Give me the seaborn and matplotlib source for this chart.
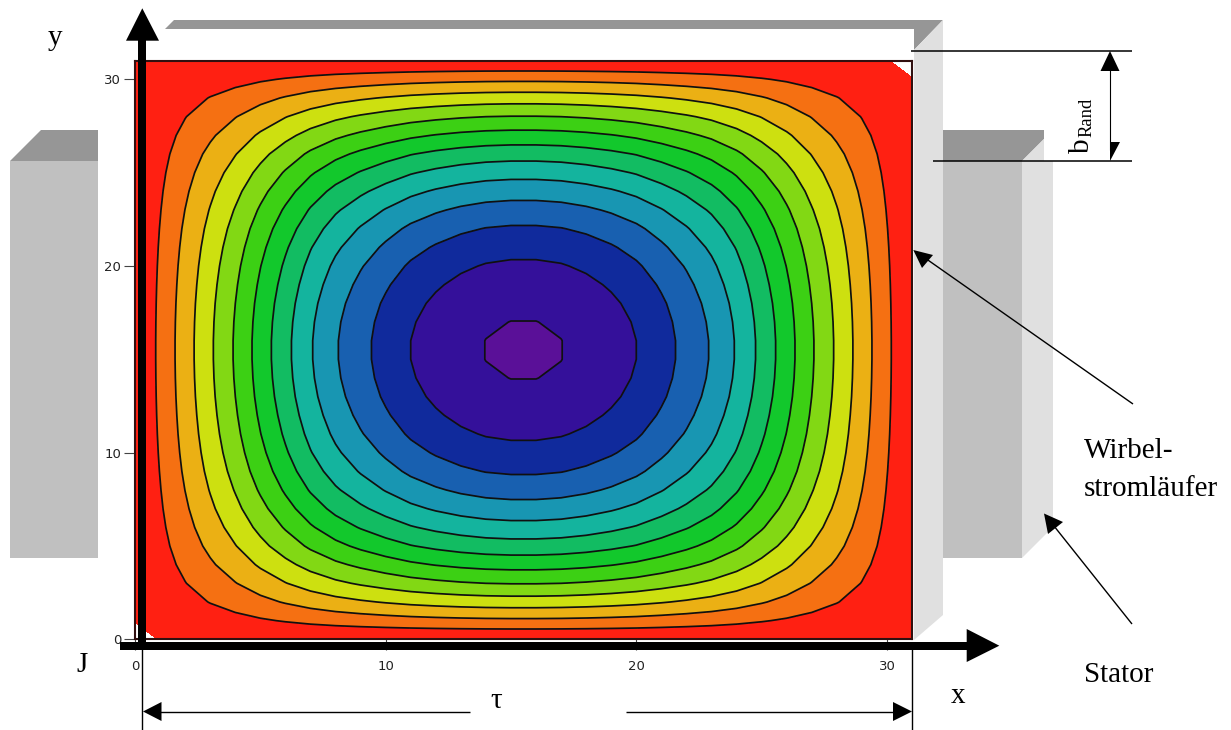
import numpy as np
import matplotlib
matplotlib.use("Agg")
import matplotlib.pyplot as plt
from matplotlib.patches import Polygon
import seaborn as sns

# ---- data (contour level units along the two mid lines)
x_grid = list(range(32))
y_grid = list(range(32))
x_profile = [0, 1.21, 2.53, 3.84, 5.11, 6.44, 7.71, 8.91, 9.91, 10.70, 11.39, 12.00, 12.44, 12.78, 13.01, 13.11,
             13.11, 13.01, 12.78, 12.44, 12.00, 11.39, 10.70, 9.91, 8.91, 7.71, 6.44, 5.11, 3.84, 2.53, 1.21, 0]
y_profile = [0, 1.81, 3.53, 5.04, 6.37, 7.60, 8.66, 9.60, 10.42, 11.12, 11.69, 12.16, 12.53, 12.82, 13.01, 13.11,
             13.11, 13.01, 12.82, 12.53, 12.16, 11.69, 11.12, 10.42, 9.60, 8.66, 7.60, 6.37, 5.04, 3.53, 1.81, 0]
peak_value = 13.11
corner_value = -1.0
fill_levels = [-0.1, 1, 2, 3, 4, 5, 6, 7, 8, 9, 10, 11, 12, 13, 14]
line_levels = [1, 2, 3, 4, 5, 6, 7, 8, 9, 10, 11, 12, 13]
band_colors = ["#FF2012", "#F57012", "#EBB014", "#CDE010", "#82D814", "#3CD014", "#12C82C", "#12BC62",
               "#14B49E", "#1896B2", "#1860B0", "#102A9C", "#34109A", "#5A1098"]
tick_values = [0, 10, 20, 30]

# ---- scene decoration, in picture pixels
gray_light = "#C0C0C0"
gray_dark = "#969696"
gray_pale = "#E0E0E0"
scene = [
    ([(10, 161), (98, 161), (98, 558), (10, 558)], gray_light),
    ([(10, 161), (41, 130), (98, 130), (98, 161)], gray_dark),
    ([(165, 29), (174, 20), (943, 20), (914, 50), (914, 29)], gray_dark),
    ([(914, 50), (943, 20), (943, 615), (914, 640)], gray_pale),
    ([(943, 161), (1022, 161), (1022, 558), (943, 558)], gray_light),
    ([(943, 130), (1044, 130), (1044, 139), (1022, 161), (943, 161)], gray_dark),
    ([(1022, 161), (1044, 139), (1044, 161), (1053, 161), (1053, 527), (1022, 558)], gray_pale),
]
thick_shapes = [
    [(138.3, 40), (146, 40), (146, 649), (138.3, 649)],
    [(126, 40.7), (142.3, 8.3), (159, 40.7)],
    [(120, 642), (968, 642), (968, 649.5), (120, 649.5)],
    [(966.7, 629), (999.3, 645.7), (966.7, 662)],
]
thin_lines = [
    ((911, 51), (1132, 51), 1.1),
    ((933, 161), (1132, 161), 1.1),
    ((1110, 60), (1110, 150), 0.8),
    ((142.3, 646), (142.3, 730), 1.0),
    ((912, 646), (912, 730), 1.0),
    ((150, 711.5), (470, 711.5), 1.0),
    ((626, 711.5), (900, 711.5), 1.0),
    ((1133, 404), (925, 258), 1.0),
    ((1132, 624), (1050, 521), 1.0),
]
small_heads = [
    [(1110, 51), (1119.5, 71), (1100.5, 71)],
    [(1110, 161), (1110, 142), (1119.5, 142)],
    [(143, 711.5), (161.5, 702), (161.5, 721)],
    [(912, 711.5), (893, 702), (893, 721)],
    [(913.3, 250), (933, 255), (922, 268)],
    [(1044, 513.5), (1063, 522), (1048, 534)],
]
labels = [
    ("y", 55, 45, 21, 0, "center"),
    ("J", 82, 672, 21, 0, "center"),
    ("x", 958, 703, 21, 0, "center"),
    ("τ", 496, 708, 21, 0, "center"),
    ("Wirbel-", 1084, 458, 21, 0, "left"),
    ("stromläufer", 1084, 496, 21, 0, "left"),
    ("Stator", 1084, 682, 21, 0, "left"),
]

sns.set_theme(style="white")
plt.rcParams["font.family"] = ["DejaVu Sans"]
palette = sns.color_palette(band_colors)

W, H = 1231, 730
fig = plt.figure(figsize=(W / 100, H / 100), dpi=100, facecolor="white")


def overlay(z):
    a = fig.add_axes([0, 0, 1, 1], zorder=z)
    a.set_xlim(0, W)
    a.set_ylim(H, 0)
    a.axis("off")
    a.patch.set_alpha(0)
    return a


back = overlay(0)
for pts, col in scene:
    back.add_patch(Polygon(pts, closed=True, facecolor=col, edgecolor="none"))

# contour plot
left, right, top, bottom = 135, 912, 60.7, 639.3
ax = fig.add_axes([left / W, 1 - bottom / H, (right - left) / W, (bottom - top) / H], zorder=1)
ax.patch.set_facecolor("white")
Z = np.outer(y_profile, x_profile) / peak_value
Z[0, 0] = corner_value
Z[-1, -1] = corner_value
ax.contourf(x_grid, y_grid, Z, levels=fill_levels, colors=palette)
ax.contour(x_grid, y_grid, Z, levels=line_levels, colors="#101010", linewidths=1.25)
ax.set_xlim(0, 31)
ax.set_ylim(0, 31)
ax.set_xticks(tick_values)
ax.set_yticks(tick_values)
ax.tick_params(axis="x", length=8, width=0.8, color="#444444", labelcolor="#222222", labelsize=9.5, pad=7, bottom=True)
ax.tick_params(axis="y", length=8, width=0.8, color="#444444", labelcolor="#222222", labelsize=9.5, pad=2, left=True)
for s in ax.spines.values():
    s.set_linewidth(1.5)
    s.set_color("#301010")

front = overlay(2)
for pts in thick_shapes + small_heads:
    front.add_patch(Polygon(pts, closed=True, facecolor="black", edgecolor="none"))
for p0, p1, lw in thin_lines:
    front.plot([p0[0], p1[0]], [p0[1], p1[1]], color="black", lw=lw, solid_capstyle="butt")
for s, x, y, size, rot, ha in labels:
    front.text(x, y, s, fontsize=size, rotation=rot, ha=ha, va="baseline",
               family="Liberation Serif", color="black")
front.text(1095, 153, "b", fontsize=21, rotation=90, ha="left", va="bottom",
           family="Liberation Serif", color="black", rotation_mode="anchor")
front.text(1095, 137, "Rand", fontsize=13.4, rotation=90, ha="left", va="bottom",
           family="Liberation Serif", color="black", rotation_mode="anchor")

fig.savefig("out.png", dpi=100)
